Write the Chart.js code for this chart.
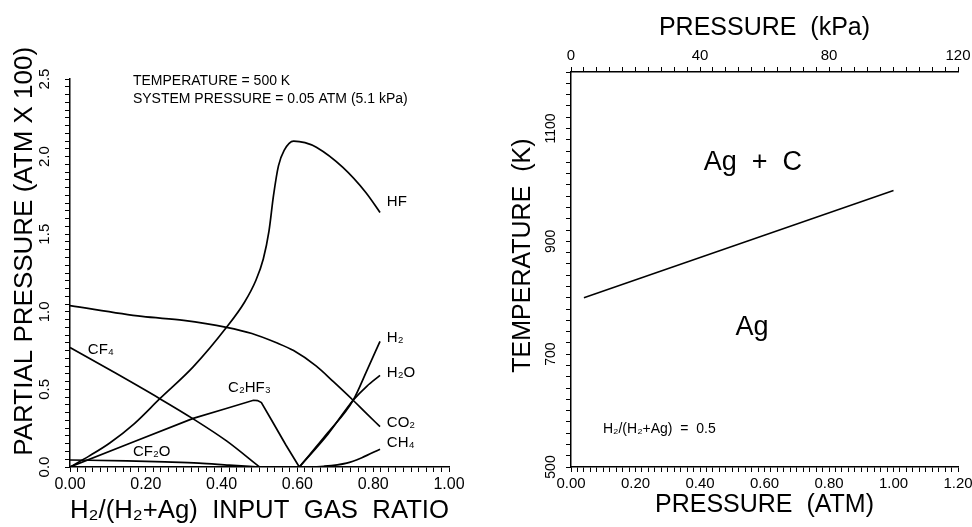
<!DOCTYPE html>
<html>
<head>
<meta charset="utf-8">
<title>Partial pressures and Ag deposition</title>
<script src="https://cdn.jsdelivr.net/npm/chart.js@4.4.1/dist/chart.umd.min.js"></script>
<style>
    body { margin: 0; background: #fff; }
    canvas { position: absolute; top: 0; }
</style>
</head>
<body>
<canvas id="myChart" width="486" height="527" style="left:0"></canvas>
<canvas id="myChart2" width="486" height="527" style="left:486px"></canvas>
<script>
// left plot: H2/(H2+Ag) ratio on x, partial pressure (atm x 100) on y
var hfX = [0, 0.05, 0.105, 0.17, 0.237, 0.325, 0.413, 0.46, 0.49, 0.51, 0.525, 0.537, 0.55, 0.565, 0.59, 0.62, 0.65, 0.72, 0.78, 0.818];
var hfY = [0, 0.07, 0.155, 0.28, 0.44, 0.645, 0.90, 1.06, 1.20, 1.34, 1.52, 1.75, 1.94, 2.04, 2.10, 2.09, 2.06, 1.93, 1.77, 1.64];

var co2X = [0, 0.19, 0.30, 0.413, 0.48, 0.545, 0.59, 0.65, 0.695, 0.747, 0.78, 0.818];
var co2Y = [1.04, 0.97, 0.945, 0.90, 0.86, 0.80, 0.75, 0.65, 0.55, 0.43, 0.35, 0.26];

var cf4X = [0, 0.12, 0.237, 0.325, 0.413, 0.50];
var cf4Y = [0.77, 0.605, 0.44, 0.31, 0.168, 0];

var c2hf3X = [0, 0.16, 0.325, 0.41, 0.484, 0.495, 0.505, 0.537, 0.57, 0.605];
var c2hf3Y = [0, 0.155, 0.313, 0.375, 0.43, 0.428, 0.415, 0.28, 0.14, 0];

var cf2oX = [0, 0.15, 0.25, 0.34, 0.42, 0.50];
var cf2oY = [0.045, 0.04, 0.033, 0.025, 0.012, 0];

var h2X = [0.605, 0.68, 0.747, 0.783, 0.818];
var h2Y = [0, 0.22, 0.43, 0.62, 0.81];

var h2oX = [0.605, 0.68, 0.747, 0.783, 0.818];
var h2oY = [0, 0.21, 0.43, 0.52, 0.59];

var ch4X = [0.60, 0.67, 0.73, 0.77, 0.818];
var ch4Y = [0, 0.005, 0.025, 0.06, 0.115];

var ratioLabels = ['0.00', '0.20', '0.40', '0.60', '0.80', '1.00'];
var ppTicks = [0, 0.5, 1.0, 1.5, 2.0, 2.5];
var ppLabels = ['0.0', '0.5', '1.0', '1.5', '2.0', '2.5'];

// right plot: Ag / Ag + C boundary, pressure (atm) vs temperature (K)
var boundaryAtm = [0.04, 1.0];
var boundaryK = [800, 990];

var atmLabels = ['0.00', '0.20', '0.40', '0.60', '0.80', '1.00', '1.20'];
var kpaLabels = ['0', '40', '80', '120'];
var tempTicks = [500, 700, 900, 1100];
var tempLabels = ['500', '700', '900', '1100'];

var fonte = "'Liberation Sans', 'DejaVu Sans', sans-serif";
Chart.defaults.font.family = fonte;
Chart.defaults.color = '#000';

function pontos(xs, ys) {
    return xs.map(function (x, i) { return { x: x, y: ys[i] }; });
}

function curva(xs, ys, reta) {
    var d = {
        data: pontos(xs, ys),
        showLine: true,
        borderColor: '#000',
        borderWidth: 1.7,
        pointRadius: 0
    };
    if (reta) {
        d.tension = 0;
    } else {
        d.cubicInterpolationMode = 'monotone';
    }
    return d;
}

// label every `passo` units, blank for the minor ticks
function rotulo(lista, passo) {
    return function (v) {
        var k = v / passo;
        if (Math.abs(k - Math.round(k)) < 1e-6) {
            var s = lista[Math.round(k)];
            return s === undefined ? '' : s;
        }
        return '';
    };
}

// y tick labels in the original are turned sideways
function ticksDeitados(id, valores, textos, x, tamanho) {
    return {
        id: 'deitado' + id,
        afterDraw: function (chart) {
            var s = chart.scales.y;
            var c = chart.ctx;
            c.save();
            c.font = tamanho + 'px ' + fonte;
            c.fillStyle = '#000';
            c.textAlign = 'center';
            c.textBaseline = 'middle';
            valores.forEach(function (v, i) {
                c.save();
                c.translate(x, s.getPixelForValue(v));
                c.rotate(-Math.PI / 2);
                c.fillText(textos[i], 0, 0);
                c.restore();
            });
            c.restore();
        }
    };
}

// free text placed in data units
function textos(id, notas) {
    return {
        id: 'notas' + id,
        afterDraw: function (chart) {
            var c = chart.ctx;
            c.save();
            c.fillStyle = '#000';
            c.textBaseline = 'middle';
            notas.forEach(function (n) {
                c.font = n.size + 'px ' + fonte;
                c.textAlign = n.align || 'left';
                c.fillText(n.text, chart.scales.x.getPixelForValue(n.x), chart.scales.y.getPixelForValue(n.y));
            });
            c.restore();
        }
    };
}

let ctx = document.getElementById('myChart').getContext('2d');
let myChart = new Chart(ctx, {
    type: 'scatter',
    data: {
        datasets: [
            curva(hfX, hfY),
            curva(co2X, co2Y),
            curva(cf4X, cf4Y),
            curva(c2hf3X, c2hf3Y, true),
            curva(cf2oX, cf2oY),
            curva(h2X, h2Y),
            curva(h2oX, h2oY),
            curva(ch4X, ch4Y)
        ]
    },
    options: {
        responsive: false,
        animation: false,
        layout: { padding: { top: 79, right: 37, left: 0, bottom: 0 } },
        plugins: { legend: { display: false }, tooltip: { enabled: false } },
        scales: {
            x: {
                type: 'linear', min: 0, max: 1,
                border: { color: '#000', width: 1.5 },
                grid: { drawOnChartArea: false, tickLength: 5, tickColor: '#000' },
                ticks: { stepSize: 0.02, autoSkip: false, maxRotation: 0, padding: 3, font: { size: 16 }, callback: rotulo(ratioLabels, 0.2) },
                title: { display: true, text: 'H₂/(H₂+Ag)  INPUT  GAS  RATIO', font: { size: 26 }, padding: { top: 0, bottom: 1 } },
                afterFit: function (s) { s.height = 60; s.paddingLeft = 0; s.paddingRight = 0; }
            },
            y: {
                type: 'linear', min: 0, max: 2.5,
                border: { color: '#000', width: 1.5 },
                grid: { drawOnChartArea: false, tickLength: 5, tickColor: '#000' },
                ticks: { stepSize: 0.05, autoSkip: false, callback: function () { return ''; } },
                title: { display: true, text: '      PARTIAL PRESSURE (ATM X 100)', font: { size: 26 }, padding: { top: 9, bottom: 0 } },
                afterFit: function (s) { s.width = 70; s.paddingTop = 0; s.paddingBottom = 0; }
            }
        }
    },
    plugins: [
        ticksDeitados('L', ppTicks, ppLabels, 45, 15),
        textos('L', [
            { text: 'TEMPERATURE = 500 K', x: 0.166, y: 2.487, size: 14 },
            { text: 'SYSTEM PRESSURE = 0.05 ATM (5.1 kPa)', x: 0.166, y: 2.371, size: 14 },
            { text: 'HF', x: 0.836, y: 1.707, size: 15 },
            { text: 'H₂', x: 0.836, y: 0.831, size: 15 },
            { text: 'H₂O', x: 0.836, y: 0.606, size: 15 },
            { text: 'CO₂', x: 0.836, y: 0.284, size: 15 },
            { text: 'CH₄', x: 0.836, y: 0.155, size: 15 },
            { text: 'CF₄', x: 0.047, y: 0.754, size: 15 },
            { text: 'C₂HF₃', x: 0.417, y: 0.509, size: 15 },
            { text: 'CF₂O', x: 0.166, y: 0.097, size: 15 }
        ])
    ]
});

let ctx2 = document.getElementById('myChart2').getContext('2d');
let myChart2 = new Chart(ctx2, {
    type: 'scatter',
    data: {
        datasets: [{
            data: pontos(boundaryAtm, boundaryK),
            showLine: true,
            borderColor: '#000',
            borderWidth: 1.4,
            pointRadius: 0,
            xAxisID: 'x'
        }]
    },
    options: {
        responsive: false,
        animation: false,
        layout: { padding: { top: 0, right: 14, left: 0, bottom: 0 } },
        plugins: { legend: { display: false }, tooltip: { enabled: false } },
        scales: {
            x: {
                type: 'linear', position: 'bottom', min: 0, max: 1.2,
                border: { color: '#000', width: 1.5 },
                grid: { drawOnChartArea: false, tickLength: 5, tickColor: '#000' },
                ticks: { stepSize: 0.02, autoSkip: false, maxRotation: 0, padding: 3, font: { size: 15 }, callback: rotulo(atmLabels, 0.2) },
                title: { display: true, text: 'PRESSURE  (ATM)', font: { size: 25 }, padding: { top: 0, bottom: 7 } },
                afterFit: function (s) { s.height = 60; s.paddingLeft = 0; s.paddingRight = 0; }
            },
            x2: {
                type: 'linear', axis: 'x', position: 'top', min: 0, max: 120,
                border: { color: '#000', width: 1.5 },
                grid: { drawOnChartArea: false, tickLength: 5, tickColor: '#000' },
                ticks: { stepSize: 4, autoSkip: false, maxRotation: 0, padding: 2, font: { size: 15 }, callback: rotulo(kpaLabels, 40) },
                title: { display: true, text: 'PRESSURE  (kPa)', font: { size: 25 }, padding: { top: 13, bottom: 0 } },
                afterFit: function (s) { s.height = 72; s.paddingLeft = 0; s.paddingRight = 0; }
            },
            y: {
                type: 'linear', min: 500, max: 1200,
                border: { color: '#000', width: 1.5 },
                grid: { drawOnChartArea: false, tickLength: 5, tickColor: '#000' },
                ticks: { stepSize: 20, autoSkip: false, callback: function () { return ''; } },
                title: { display: true, text: '    TEMPERATURE  (K)', font: { size: 25 }, padding: { top: 22, bottom: 0 } },
                afterFit: function (s) { s.width = 85; s.paddingTop = 0; s.paddingBottom = 0; }
            }
        }
    },
    plugins: [
        ticksDeitados('R', tempTicks, tempLabels, 65, 14),
        textos('R', [
            { text: 'Ag  +  C', x: 0.564, y: 1039, size: 27, align: 'center' },
            { text: 'Ag', x: 0.561, y: 748, size: 27, align: 'center' },
            { text: 'H₂/(H₂+Ag)  =  0.5', x: 0.099, y: 567, size: 14 }
        ])
    ]
});
</script>
</body>
</html>
